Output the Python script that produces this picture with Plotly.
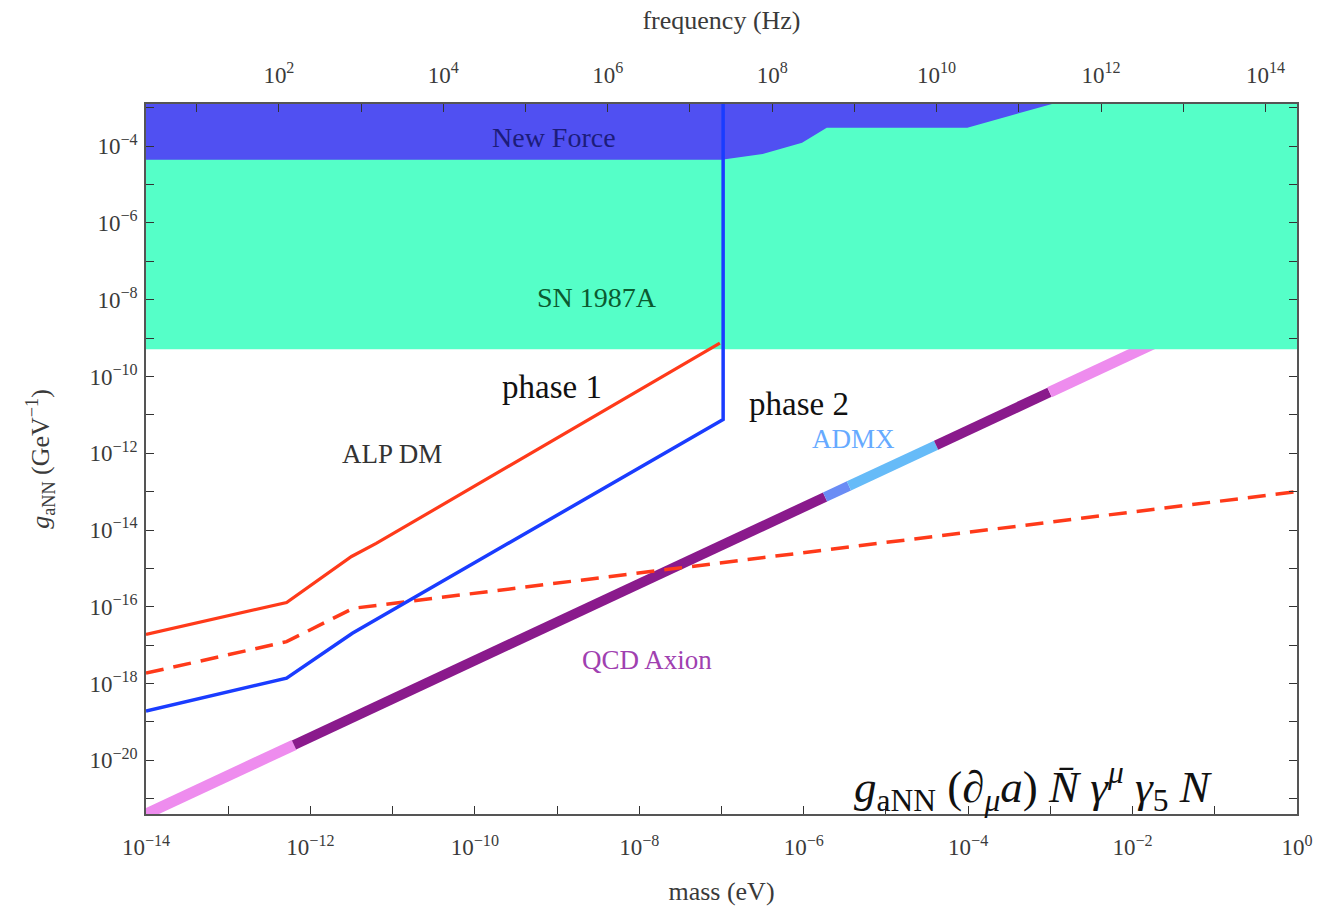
import numpy as np
import plotly.graph_objects as go

# ---------------- data (log10 values) ----------------
X_RANGE = [-14.0, 0.0]          # log10 mass (eV)
Y_RANGE = [-21.4, -2.9]         # log10 g_aNN (GeV^-1)
H_EV_S = 4.135667e-15           # Planck constant (eV s) for the frequency axis

# excluded regions
sn_logm = [-14.0, 0.0, 0.0, -14.0]
sn_logg = [-9.29, -9.29, -2.9, -2.9]

newforce_logm = [-14.0, -14.0, -7.0, -6.5, -6.02, -5.72, -4.01, -2.98]
newforce_logg = [-2.9, -4.35, -4.35, -4.2, -3.91, -3.52, -3.52, -2.9]

# sensitivity curves
phase1_logm = [-14.0, -12.29, -11.5, -11.2, -7.02]
phase1_logg = [-16.72, -15.89, -14.69, -14.35, -9.13]

phase2_logm = [-14.0, -12.29, -11.49, -6.98, -6.98]
phase2_logg = [-18.72, -17.86, -16.69, -11.12, -2.9]

dashed_logm = [-14.0, -12.29, -11.48, 0.0]
dashed_logg = [-17.73, -16.91, -16.04, -13.0]

# QCD axion band: log g = log m + offset, split in coloured segments
qcd_offset = -7.4
qcd_seg_start = [-14.2, -12.2, -5.74, -5.45, -4.39, -3.01]
qcd_seg_end = [-12.2, -5.74, -5.45, -4.39, -3.01, -1.5]
qcd_seg_color = ["#ee8cee", "#8a1a8c", "#6a8cf5", "#66bbf8", "#8a1a8c", "#ee8cee"]
qcd_seg_width = [11, 10, 10, 10, 10, 11]

mass_major = list(range(-14, 1, 2))
mass_minor = list(range(-13, 0, 2))
freq_major = list(range(2, 15, 2))
freq_minor = list(range(1, 15, 2))
g_major = list(range(-20, -3, 2))
g_minor = list(range(-21, -2, 2))


def p(v):
    return [10.0 ** a for a in v]


def sup(k):
    s = str(k).replace("-", "\u2212")
    return "10<sup>" + s + "</sup>"


fig = go.Figure()

# QCD axion line (under the excluded region)
for a, b, c, w in zip(qcd_seg_start, qcd_seg_end, qcd_seg_color, qcd_seg_width):
    fig.add_trace(go.Scatter(x=p([a, b]), y=p([a + qcd_offset, b + qcd_offset]),
                             mode="lines", line=dict(color=c, width=w),
                             showlegend=False, hoverinfo="skip"))

# SN 1987A
fig.add_trace(go.Scatter(x=p(sn_logm), y=p(sn_logg), fill="toself",
                         fillcolor="#55ffc8", line=dict(width=0), mode="lines",
                         showlegend=False, hoverinfo="skip"))
# New Force
fig.add_trace(go.Scatter(x=p(newforce_logm), y=p(newforce_logg), fill="toself",
                         fillcolor="#5050f2", line=dict(width=0), mode="lines",
                         showlegend=False, hoverinfo="skip"))

# dashed red
fig.add_trace(go.Scatter(x=p(dashed_logm), y=p(dashed_logg), mode="lines",
                         line=dict(color="#ff3a1a", width=3.5, dash="18px,10px"),
                         showlegend=False, hoverinfo="skip"))
# phase 1
fig.add_trace(go.Scatter(x=p(phase1_logm), y=p(phase1_logg), mode="lines",
                         line=dict(color="#ff3a1a", width=3.2),
                         showlegend=False, hoverinfo="skip"))
# phase 2
fig.add_trace(go.Scatter(x=p(phase2_logm), y=p(phase2_logg), mode="lines",
                         line=dict(color="#1a3cff", width=3.5),
                         showlegend=False, hoverinfo="skip"))

# invisible trace on the frequency axis
f0 = X_RANGE[0] - np.log10(H_EV_S)
f1 = X_RANGE[1] - np.log10(H_EV_S)
fig.add_trace(go.Scatter(x=[10 ** f0, 10 ** f1], y=[1e-10, 1e-10], xaxis="x2",
                         mode="markers", marker=dict(opacity=0), showlegend=False,
                         hoverinfo="skip"))

SERIF = "Liberation Serif, Times New Roman, serif"
tickfont = dict(family=SERIF, size=23, color="#3a3a3a")
titlefont = dict(family=SERIF, size=26, color="#3a3a3a")


def minor(vals):
    return dict(tickmode="array", tickvals=p(vals), ticks="inside", ticklen=8,
                tickcolor="#333", showgrid=False)


fig.update_layout(
    width=1317, height=913,
    margin=dict(l=146, r=20, t=104, b=99),
    paper_bgcolor="white", plot_bgcolor="white",
    xaxis=dict(type="log", range=X_RANGE, showgrid=False, zeroline=False, automargin=False,
               showline=True, linecolor="#555", linewidth=1.5, mirror=False,
               ticks="inside", ticklen=8, tickcolor="#333", tickwidth=1,
               tickmode="array", tickvals=p(mass_major),
               ticktext=[sup(k) for k in mass_major], minor=minor(mass_minor),
               tickfont=tickfont, ticklabelstandoff=12,
               title=dict(text="mass (eV)", font=titlefont, standoff=22)),
    xaxis2=dict(type="log", range=[f0, f1], overlaying="x", side="top", automargin=False,
                showgrid=False, zeroline=False, showline=True, linecolor="#555",
                linewidth=1.5, ticks="inside", ticklen=8, tickcolor="#333",
                tickmode="array", tickvals=p(freq_major),
                ticktext=[sup(k) for k in freq_major], minor=minor(freq_minor),
                tickfont=tickfont, ticklabelstandoff=10,
                title=dict(text="frequency (Hz)", font=titlefont, standoff=22)),
    yaxis=dict(type="log", range=Y_RANGE, showgrid=False, zeroline=False, automargin=False,
               showline=True, linecolor="#555", linewidth=1.5, mirror="allticks",
               ticks="inside", ticklen=8, tickcolor="#333",
               tickmode="array", tickvals=p(g_major),
               ticktext=[sup(k) for k in g_major], minor=minor(g_minor),
               tickfont=tickfont, ticklabelstandoff=2,
               title=dict(text="<i>g</i><sub>aNN</sub> (GeV<sup>\u22121</sup>)",
                          font=titlefont, standoff=32)),
)

labels = [
    ("New Force", -9.04, -3.78, 28, "#1c1c7a"),
    ("SN 1987A", -8.51, -7.94, 28, "#0b5a30"),
    ("phase 1", -9.06, -10.28, 33, "#111111"),
    ("phase 2", -6.06, -10.72, 33, "#111111"),
    ("ALP DM", -11.01, -12.02, 27, "#333333"),
    ("ADMX", -5.40, -11.63, 27, "#66aaff"),
    ("QCD Axion", -7.91, -17.39, 27, "#a040b0"),
]
for t, xm, yg, s, c in labels:
    fig.add_annotation(x=xm, y=yg, xref="x", yref="y", text=t, showarrow=False,
                       font=dict(family=SERIF, size=s, color=c))

fig.add_annotation(
    x=-3.2, y=-20.68, xref="x", yref="y", showarrow=False,
    text="<i>g</i><sub>aNN</sub> (\u2202<sub><i>\u03bc</i></sub><i>a</i>) "
         "<i>N\u0304</i> <i>\u03b3</i><sup><i>\u03bc</i></sup> <i>\u03b3</i><sub>5</sub> <i>N</i>",
    font=dict(family=SERIF, size=45, color="#111111"))

fig.write_html(
    "out.html",
    config={"displayModeBar": False},
    post_script="document.body.style.margin='0px';document.body.style.overflow='hidden';",
)
